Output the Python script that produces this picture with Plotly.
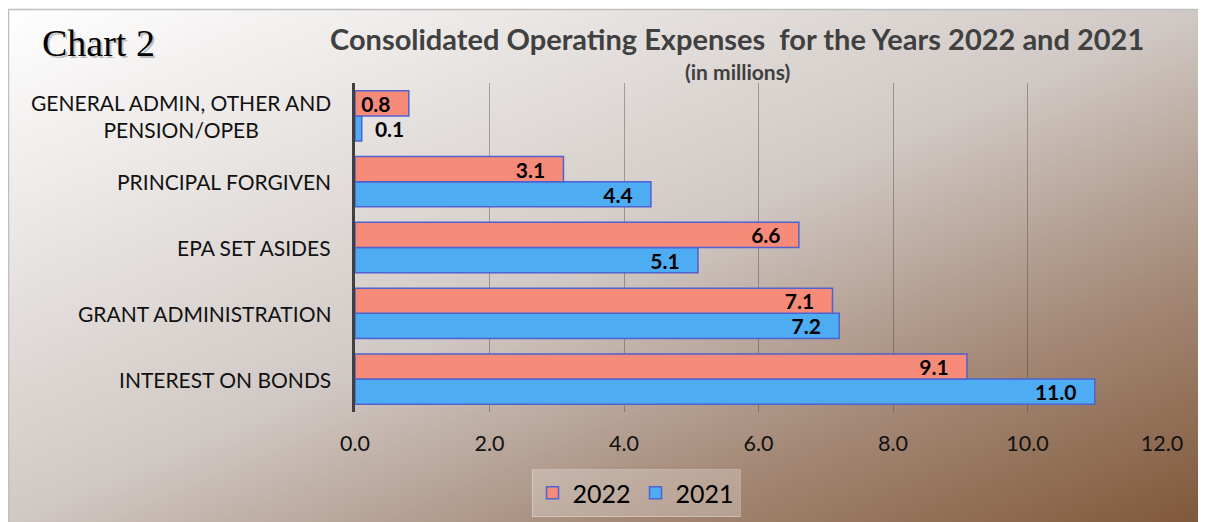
import base64
import plotly.graph_objects as go

# categories listed bottom -> top (plotly draws the first category at the bottom)
categories = [
    "INTEREST ON BONDS",
    "GRANT ADMINISTRATION",
    "EPA SET ASIDES",
    "PRINCIPAL FORGIVEN",
    "GENERAL ADMIN, OTHER AND<br>PENSION/OPEB",
]
values_2022 = [9.1, 7.1, 6.6, 3.1, 0.8]
values_2021 = [11.0, 7.2, 5.1, 4.4, 0.1]
x_ticks = [0, 2, 4, 6, 8, 10, 12]

OFF = 8  # page body margin
W, H = 1206 - OFF, 522 - OFF
L, R, T, B = 347, 44, 75, 110
pw, ph = W - L - R, H - T - B


def px(x):
    # x given in screenshot pixels
    return (x - OFF - L) / pw


def py(y):
    return 1 - (y - OFF - T) / ph


FONT = "Lato"
SALMON = "#F78B7A"
BLUE = "#4DACF2"
EDGE = "#4F62D0"
NB = "\u00a0"


def labels(vals):
    # small bars get their label outside, the rest inside at the end
    pos = ["outside" if v < 0.5 else "inside" for v in vals]
    txt = [(NB * 2 + f"{v:.1f}") if p == "outside" else (f"{v:.1f}" + NB * 3)
           for v, p in zip(vals, pos)]
    return txt, pos


fig = go.Figure()
for name, vals, color, rank in [("2021", values_2021, BLUE, 2),
                                ("2022", values_2022, SALMON, 1)]:
    txt, pos = labels(vals)
    fig.add_trace(go.Bar(
        y=categories, x=vals, name=name, orientation="h",
        marker=dict(color=color, line=dict(color=EDGE, width=1.5)),
        text=txt, textposition=pos, constraintext="none",
        textfont=dict(family=FONT, size=21, color="#000000", weight="bold"),
        insidetextanchor="end", legendrank=rank, hoverinfo="x+name",
    ))

# gradient background as an inline svg
svg = (
    '<svg xmlns="http://www.w3.org/2000/svg" width="100" height="100" '
    'viewBox="0 0 100 100" preserveAspectRatio="none"><defs>'
    '<linearGradient id="g" x1="0" y1="0" x2="1" y2="1">'
    '<stop offset="0" stop-color="#ffffff"/>'
    '<stop offset="0.5" stop-color="#d0c8c4"/>'
    '<stop offset="0.75" stop-color="#a58a78"/>'
    '<stop offset="1" stop-color="#80583a"/>'
    '</linearGradient></defs><rect width="100" height="100" fill="url(#g)"/></svg>'
)
src = "data:image/svg+xml;base64," + base64.b64encode(svg.encode()).decode()
fig.add_layout_image(dict(
    source=src, xref="paper", yref="paper", x=px(8), y=py(9),
    sizex=(1206 - 8) / pw, sizey=(522 - 9) / ph, sizing="stretch",
    xanchor="left", yanchor="top", layer="below",
))
fig.add_shape(type="rect", xref="paper", yref="paper",
              x0=px(8.5), x1=px(1210), y0=py(9.5), y1=py(530),
              line=dict(color="#bfbfbf", width=1.5), layer="below")

ann = []
for c in categories:
    ann.append(dict(x=0, y=c, xref="paper", yref="y", text=c, showarrow=False,
                    xanchor="right", yanchor="middle", align="center", xshift=-22,
                    font=dict(family=FONT, size=21, color="#111111")))
ann.append(dict(x=px(737), y=py(38), xref="paper", yref="paper", showarrow=False,
                xanchor="center", yanchor="middle",
                text="Consolidated Operating Expenses" + NB + " for the Years 2022 and 2021",
                font=dict(family=FONT, size=29, color="#404040", weight="bold")))
ann.append(dict(x=px(737), y=py(72), xref="paper", yref="paper", showarrow=False,
                xanchor="center", yanchor="middle", text="(in millions)",
                font=dict(family=FONT, size=21, color="#404040", weight="bold")))
for dx, col in [(2, "rgba(0,0,0,0.22)"), (0, "#000000")]:
    ann.append(dict(x=px(98), y=py(43), xref="paper", yref="paper", showarrow=False,
                    xanchor="center", yanchor="middle",
                    xshift=dx, yshift=-dx, text="Chart 2",
                    font=dict(family="Liberation Serif", size=38, color=col)))

fig.update_layout(
    width=W, height=H,
    margin=dict(l=L, r=R, t=T, b=B, autoexpand=False),
    paper_bgcolor="#ffffff", plot_bgcolor="rgba(0,0,0,0)",
    barmode="group", bargap=0.235, bargroupgap=0,
    annotations=ann,
    legend=dict(orientation="h", x=px(636), y=py(469), xanchor="center", yanchor="top",
                bgcolor="rgba(255,255,255,0.25)", bordercolor="rgba(255,255,255,0.3)",
                borderwidth=1, font=dict(family=FONT, size=25, color="#000000"),
                traceorder="normal"),
)
fig.update_xaxes(
    range=[0, 12], tickvals=x_ticks, tickformat=".1f",
    showgrid=True, gridcolor="rgba(60,60,60,0.4)", gridwidth=1,
    ticks="outside", ticklen=12, tickcolor="rgba(0,0,0,0)",
    tickfont=dict(family=FONT, size=21.5, color="#111111"),
    zeroline=False, showline=False,
)
fig.update_yaxes(
    showticklabels=False, showgrid=False, zeroline=False,
    showline=True, linecolor="#404040", linewidth=3,
)

fig.write_html("out.html")
